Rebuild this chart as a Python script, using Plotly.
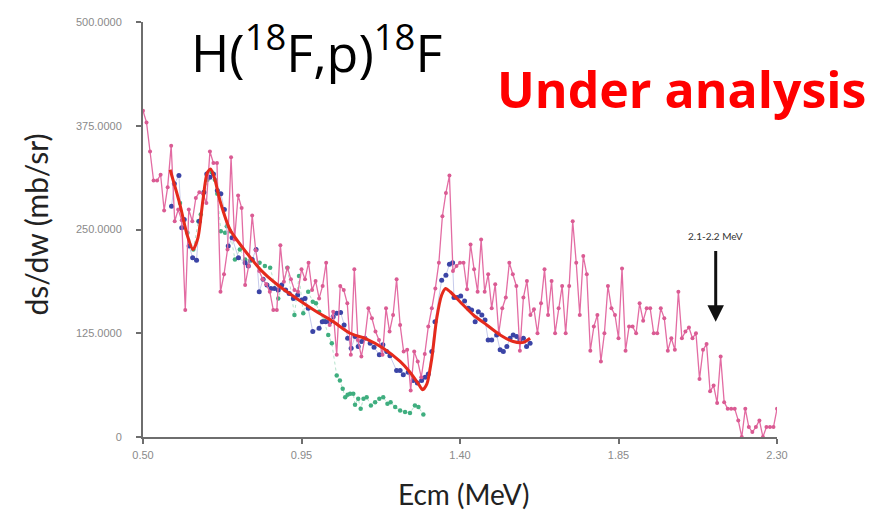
import plotly.graph_objects as go

# ---- data ----
pink_x = [0.50,0.51,0.52,0.53,0.54,0.55,0.56,0.57,0.58,0.59,0.60,0.61,0.62,0.63,0.64,0.65,0.66,0.67,0.68,0.69,
          0.70,0.71,0.72,0.73,0.74,0.75,0.76,0.77,0.78,0.79,0.80,0.81,0.82,0.83,0.84,0.85,0.86,0.87,0.88,0.89,
          0.90,0.91,0.92,0.93,0.94,0.95,0.96,0.97,0.98,0.99,1.00,1.01,1.02,1.03,1.04,1.05,1.06,1.07,1.08,1.09,
          1.10,1.11,1.12,1.13,1.14,1.15,1.16,1.17,1.18,1.19,1.20,1.21,1.22,1.23,1.24,1.25,1.26,1.27,1.28,1.29,
          1.30,1.31,1.32,1.33,1.34,1.35,1.36,1.37,1.38,1.39,1.40,1.41,1.42,1.43,1.44,1.45,1.46,1.47,1.48,1.49,
          1.50,1.51,1.52,1.53,1.54,1.55,1.56,1.57,1.58,1.59,1.60,1.61,1.62,1.63,1.64,1.65,1.66,1.67,1.68,1.69,
          1.70,1.71,1.72,1.73,1.74,1.75,1.76,1.77,1.78,1.79,1.80,1.81,1.82,1.83,1.84,1.85,1.86,1.87,1.88,1.89,
          1.90,1.91,1.92,1.93,1.94,1.95,1.96,1.97,1.98,1.99,2.00,2.01,2.02,2.03,2.04,2.05,2.06,2.07,2.08,2.09,
          2.10,2.11,2.12,2.13,2.14,2.15,2.16,2.17,2.18,2.19,2.20,2.21,2.22,2.23,2.24,2.25,2.26,2.27,2.28,2.29,
          2.30]
pink_y = [393,379,344,309,309,316,273,301,351,260,274,261,153,274,260,288,295,293,282,344,
          330,330,175,196,226,337,238,291,276,183,206,267,225,200,190,184,175,153,153,231,
          187,204,190,177,175,202,190,210,177,188,167,182,210,135,151,99,182,177,161,99,
          202,117,97,119,155,143,127,117,99,155,127,147,190,135,103,105,56,103,91,72,
          100,133,155,179,210,266,294,315,200,206,210,210,178,232,202,175,238,175,196,155,
          184,125,155,168,210,196,182,104,168,188,147,154,125,161,202,147,188,125,155,182,
          125,182,260,210,147,218,196,104,133,147,91,125,182,155,147,119,203,104,133,133,
          125,161,140,155,155,125,125,155,143,104,119,105,175,119,127,132,119,125,70,105,
          112,55,62,41,97,42,34,34,34,20,0,34,12,6,12,20,0,12,12,12,
          34]

blue_x = [0.581,0.589,0.602,0.610,0.617,0.631,0.641,0.652,0.660,0.673,0.681,0.690,0.700,0.711,0.721,0.731,
          0.742,0.753,0.771,0.790,0.799,0.810,0.821,0.830,0.841,0.852,0.863,0.873,0.884,0.894,0.905,0.915,
          0.927,0.939,0.951,0.960,0.969,0.982,1.000,1.009,1.019,1.031,1.040,1.050,1.061,1.071,1.081,1.091,
          1.102,1.111,1.121,1.130,1.145,1.156,1.171,1.181,1.192,1.201,1.220,1.230,1.239,1.253,1.267,1.279,
          1.291,1.301,1.310,1.320,1.329,1.348,1.360,1.370,1.379,1.383,1.392,1.402,1.413,1.424,1.433,1.443,
          1.452,1.462,1.471,1.480,1.490,1.504,1.514,1.523,1.533,1.542,1.551,1.561,1.570,1.580,1.589,1.599]
blue_y = [278,305,315,252,262,230,216,213,260,295,317,313,317,297,293,274,
          230,240,216,210,206,214,226,175,190,183,179,179,177,183,177,173,
          167,171,165,167,155,127,131,139,139,139,145,149,150,135,119,107,
          121,109,115,119,113,108,99,111,103,98,80,80,75,78,68,65,
          68,72,76,103,139,189,195,208,210,168,168,170,164,155,153,139,
          151,147,141,117,117,123,105,103,109,119,123,121,117,119,109,113]

green_x = [0.605,0.626,0.643,0.657,0.664,0.683,0.695,0.704,0.711,0.721,0.733,0.738,0.747,0.761,0.775,0.790,
           0.804,0.831,0.846,0.861,0.884,0.910,0.930,0.943,0.955,0.969,0.982,0.991,1.000,1.014,1.026,1.036,
           1.050,1.059,1.067,1.074,1.081,1.088,1.097,1.102,1.111,1.118,1.126,1.135,1.147,1.159,1.171,1.182,
           1.194,1.203,1.216,1.230,1.244,1.258,1.272,1.282,1.296]
green_y = [282,246,226,260,268,310,319,310,293,248,246,254,248,214,226,214,
           212,210,206,204,167,204,147,194,149,175,163,161,151,140,123,113,
           74,68,58,48,51,52,52,39,46,34,46,48,38,42,46,48,
           40,42,36,32,30,29,38,36,27]

fit_x = [0.577,0.605,0.625,0.642,0.656,0.670,0.682,0.692,0.703,0.719,0.747,0.794,0.842,0.889,0.936,0.993,1.040,
         1.088,1.135,1.182,1.230,1.258,1.282,1.294,1.306,1.320,1.334,1.348,1.359,1.372,1.400,1.438,1.476,
         1.514,1.551,1.580,1.599]
fit_y = [322,280,244,226,240,285,318,323,312,284,250,222,198,181,167,151,139,
         125,118,107,91,78,64,57,64,95,143,171,179,175,163,147,135,
         123,115,114,119]

y_ticks = [0, 125, 250, 375, 500]
y_ticktext = ["0", "125.0000", "250.0000", "375.0000", "500.0000"]
x_ticks = [0.50, 0.95, 1.40, 1.85, 2.30]
x_ticktext = ["0.50", "0.95", "1.40", "1.85", "2.30"]

arrow_x = 2.126
arrow_top = 226
arrow_tip = 139

fig = go.Figure()

fig.add_trace(go.Scatter(x=green_x, y=green_y, mode="lines+markers",
                         line=dict(color="#b5e3cc", width=1, dash="dot"),
                         marker=dict(color="#3fae7f", size=4.5), showlegend=False))
fig.add_trace(go.Scatter(x=blue_x, y=blue_y, mode="lines+markers",
                         line=dict(color="#b8bde6", width=0.8),
                         marker=dict(color="#3b44a6", size=5), showlegend=False))
fig.add_trace(go.Scatter(x=pink_x, y=pink_y, mode="lines+markers",
                         line=dict(color="#e36ca3", width=1.3),
                         marker=dict(color="#da5b93", size=4), showlegend=False))
fig.add_trace(go.Scatter(x=fit_x, y=fit_y, mode="lines",
                         line=dict(color="#e52a1c", width=3, shape="spline", smoothing=0.7),
                         showlegend=False))

tickfont = dict(family="Liberation Sans, Arial", size=11, color="#8a8a8a")

fig.update_xaxes(range=[0.5, 2.3], tickvals=x_ticks, ticktext=x_ticktext,
                 showgrid=False, zeroline=False, showline=True, linecolor="#6e6e6e", linewidth=2,
                 ticks="outside", ticklen=5, tickcolor="#6e6e6e", tickwidth=1.5,
                 tickfont=tickfont, ticklabelstandoff=2)
fig.update_yaxes(range=[0, 500], tickvals=y_ticks, ticktext=y_ticktext,
                 showgrid=False, zeroline=False, showline=True, linecolor="#6e6e6e", linewidth=2,
                 ticks="outside", ticklen=5, tickcolor="#6e6e6e", tickwidth=1.5,
                 tickfont=tickfont, ticklabelstandoff=12)

fig.add_annotation(x=arrow_x, y=arrow_tip, ax=arrow_x, ay=arrow_top, xref="x", yref="y",
                   axref="x", ayref="y", text="", showarrow=True, arrowhead=2,
                   arrowsize=1.1, arrowwidth=3, arrowcolor="#111111")
fig.add_annotation(x=arrow_x, y=arrow_top, xref="x", yref="y", text="2.1-2.2 MeV",
                   showarrow=False, yanchor="bottom", yshift=5,
                   font=dict(family="Lato, Liberation Sans", size=10, color="#333333"))

fig.add_annotation(x=0.274, y=0.935, xref="paper", yref="paper",
                   text="H(<sup>18</sup>F,p)<sup>18</sup>F", showarrow=False,
                   xanchor="center", yanchor="middle",
                   font=dict(family="Open Sans, Noto Sans", size=52, color="#000000"))
fig.add_annotation(x=0.850, y=0.838, xref="paper", yref="paper",
                   text="<b>Under analysis</b>", showarrow=False,
                   xanchor="center", yanchor="middle",
                   font=dict(family="Open Sans, Noto Sans", size=50, color="#ff0000"))
fig.add_annotation(x=-0.168, y=0.513, xref="paper", yref="paper",
                   text="ds/dw (mb/sr)", showarrow=False, textangle=-90,
                   xanchor="center", yanchor="middle",
                   font=dict(family="Lato, Noto Sans", size=30, color="#222222"))
fig.add_annotation(x=0.505, y=-0.138, xref="paper", yref="paper",
                   text="Ecm (MeV)", showarrow=False,
                   xanchor="center", yanchor="middle",
                   font=dict(family="Lato, Noto Sans", size=28, color="#222222"))

fig.update_layout(width=880, height=517, plot_bgcolor="white", paper_bgcolor="white",
                  margin=dict(l=135, r=111, t=8, b=88), showlegend=False)

fig.write_html("out.html")
